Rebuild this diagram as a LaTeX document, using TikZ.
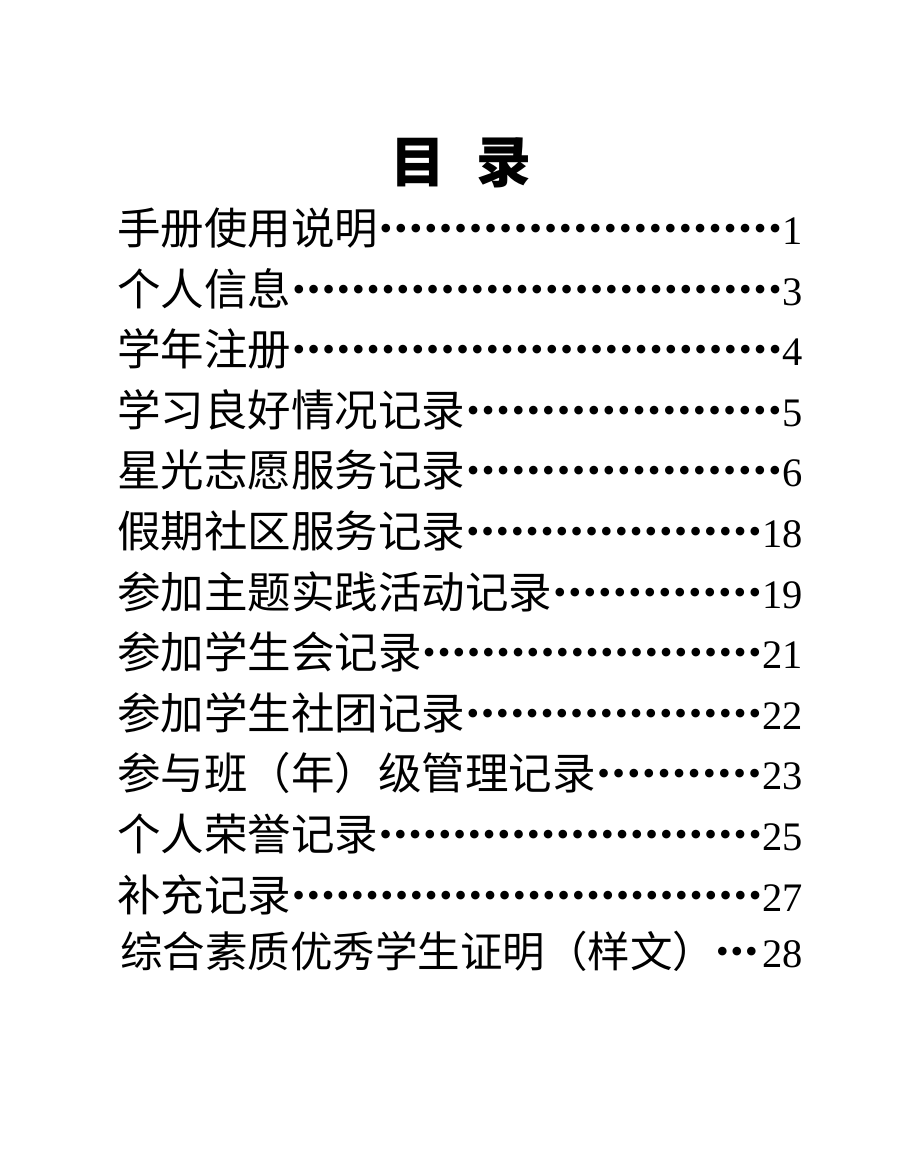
\documentclass[tikz,border=0pt]{standalone}
\usepackage{fontspec}
\setmainfont{Liberation Serif}
\newfontfamily\cjk{Noto Sans CJK SC}
\usepackage{tikz}

\newcommand{\tocdot}{\makebox[14.5pt]{\raisebox{3.7pt}{\fontsize{36pt}{36pt}\selectfont\textbullet}}}
\newcommand{\tocline}[2]{\hbox to 686pt{{\cjk\fontsize{43.5pt}{43.5pt}\selectfont #1}\xleaders\hbox{\tocdot}\hfill #2}}

\begin{document}
\begin{tikzpicture}[x=1pt,y=-1pt,
	title/.style={anchor=base,inner sep=0pt,font=\cjk\bfseries\fontsize{55pt}{55pt}\selectfont},
	entry/.style={anchor=base west,inner sep=0pt,font=\fontsize{40.5pt}{40.5pt}\selectfont}]
	\fill[white] (0,0) rectangle (920,1150);
	\useasboundingbox (0,0) rectangle (920,1150);
	\node [title] (mulu) at (461,183) {目\hspace{32pt}录};
	\node [entry] (shouce) at (117,244) {\tocline{手册使用说明}{1}};
	\node [entry] (xinxi) at (117,305) {\tocline{个人信息}{3}};
	\node [entry] (zhuce) at (117,365) {\tocline{学年注册}{4}};
	\node [entry] (xuexi) at (117,426) {\tocline{学习良好情况记录}{5}};
	\node [entry] (zhiyuan) at (117,486) {\tocline{星光志愿服务记录}{6}};
	\node [entry] (shequ) at (117,547) {\tocline{假期社区服务记录}{18}};
	\node [entry] (shijian) at (117,608) {\tocline{参加主题实践活动记录}{19}};
	\node [entry] (xueshenghui) at (117,668) {\tocline{参加学生会记录}{21}};
	\node [entry] (shetuan) at (117,729) {\tocline{参加学生社团记录}{22}};
	\node [entry] (banji) at (117,789) {\tocline{参与班（年）级管理记录}{23}};
	\node [entry] (rongyu) at (117,850) {\tocline{个人荣誉记录}{25}};
	\node [entry] (buchong) at (117,911) {\tocline{补充记录}{27}};
	\node [entry] (zhengming) at (120,967) {\hbox to 683pt{{\cjk\fontsize{42.5pt}{42.5pt}\selectfont 综合素质优秀学生证明（样文）}\tocdot\tocdot\tocdot\hfill 28}};
\end{tikzpicture}
\end{document}
